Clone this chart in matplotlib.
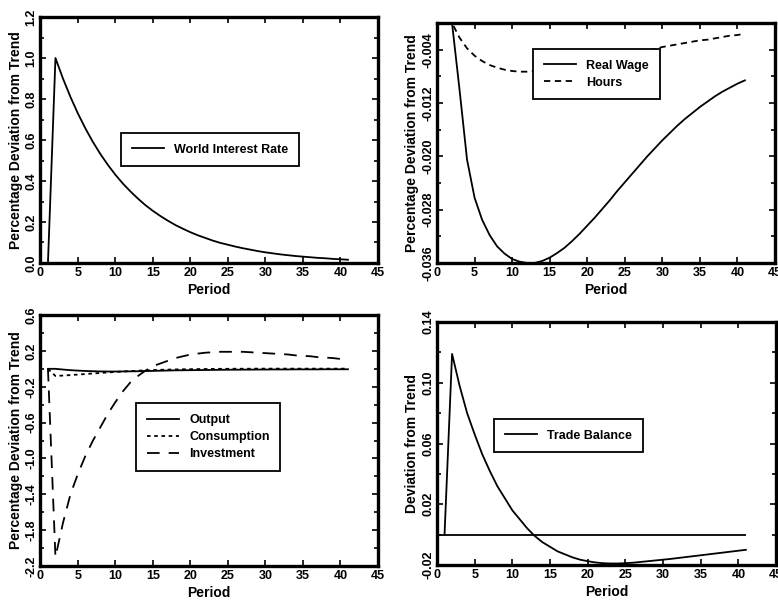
import matplotlib.pyplot as plt
import numpy as np

plt.rcParams['font.family'] = ['Liberation Sans', 'DejaVu Sans']
plt.rcParams['font.weight'] = 'bold'
plt.rcParams['axes.labelweight'] = 'bold'

# periods 1..41 of the impulse responses
periods = list(range(1, 42))

interest_rate = [0.0, 1.000, 0.900, 0.810, 0.729, 0.656, 0.590, 0.531, 0.478, 0.430,
                 0.387, 0.349, 0.314, 0.282, 0.254, 0.229, 0.206, 0.185, 0.167, 0.150,
                 0.135, 0.122, 0.109, 0.098, 0.089, 0.080, 0.072, 0.065, 0.058, 0.052,
                 0.047, 0.042, 0.038, 0.034, 0.031, 0.028, 0.025, 0.023, 0.020, 0.018,
                 0.016]

real_wage = [0.0, 0.0, -0.0100, -0.0205, -0.0262, -0.0295, -0.0318, -0.0335, -0.0346, -0.0354,
             -0.0358, -0.0360, -0.0360, -0.0357, -0.0352, -0.0345, -0.0337, -0.0327, -0.0316, -0.0304,
             -0.0292, -0.0279, -0.0266, -0.0252, -0.0239, -0.0226, -0.0213, -0.0200, -0.0188, -0.0176,
             -0.0165, -0.0154, -0.0144, -0.0135, -0.0126, -0.0118, -0.0110, -0.0103, -0.0097, -0.0091,
             -0.0086]

hours = [0.0, 0.0, -0.0022, -0.0038, -0.0049, -0.0057, -0.0063, -0.0067, -0.0070, -0.0072,
         -0.0073, -0.0073, -0.0072, -0.0071, -0.0069, -0.0067, -0.0064, -0.0062, -0.0059, -0.0057,
         -0.0055, -0.0053, -0.0051, -0.0049, -0.0047, -0.0045, -0.0043, -0.0041, -0.0039, -0.0036,
         -0.0034, -0.0032, -0.0030, -0.0028, -0.0026, -0.0025, -0.0023, -0.0021, -0.0019, -0.0018,
         -0.0016]

output = [0.0, 0.0, -0.008, -0.015, -0.020, -0.024, -0.027, -0.029, -0.030, -0.030,
          -0.029, -0.028, -0.027, -0.025, -0.023, -0.021, -0.019, -0.017, -0.016, -0.015,
          -0.014, -0.013, -0.012, -0.011, -0.010, -0.010, -0.009, -0.009, -0.008, -0.008,
          -0.007, -0.007, -0.007, -0.006, -0.006, -0.006, -0.006, -0.005, -0.005, -0.005,
          -0.005]

consumption = [0.0, -0.080, -0.075, -0.070, -0.064, -0.058, -0.052, -0.046, -0.040, -0.035,
               -0.030, -0.025, -0.021, -0.017, -0.014, -0.011, -0.009, -0.007, -0.005, -0.004,
               -0.003, -0.002, -0.001, 0.000, 0.000, 0.001, 0.001, 0.001, 0.002, 0.002,
               0.002, 0.002, 0.002, 0.002, 0.002, 0.002, 0.002, 0.002, 0.002, 0.002,
               0.002]

investment = [0.0, -2.10, -1.72, -1.40, -1.17, -0.97, -0.80, -0.65, -0.50, -0.37,
              -0.25, -0.15, -0.08, -0.02, 0.03, 0.06, 0.09, 0.12, 0.14, 0.16,
              0.17, 0.18, 0.185, 0.19, 0.19, 0.19, 0.19, 0.185, 0.18, 0.175,
              0.17, 0.165, 0.16, 0.15, 0.145, 0.14, 0.13, 0.125, 0.12, 0.11,
              0.105]

trade_balance = [0.0, 0.119, 0.098, 0.080, 0.066, 0.053, 0.042, 0.032, 0.024, 0.016,
                 0.010, 0.004, -0.001, -0.005, -0.008, -0.011, -0.013, -0.015, -0.0165, -0.0175,
                 -0.0183, -0.0188, -0.0190, -0.0190, -0.0188, -0.0185, -0.0180, -0.0175, -0.0170, -0.0165,
                 -0.0160, -0.0154, -0.0148, -0.0142, -0.0136, -0.0130, -0.0124, -0.0118, -0.0112, -0.0106,
                 -0.0100]

fig = plt.figure(figsize=(7.78, 6.01), dpi=100)

ax1 = fig.add_axes([0.052, 0.5624, 0.4338, 0.4093])
ax2 = fig.add_axes([0.5617, 0.5624, 0.4344, 0.3993])
ax3 = fig.add_axes([0.052, 0.0582, 0.4338, 0.4176])
ax4 = fig.add_axes([0.5617, 0.0599, 0.4357, 0.4043])


def style_axes(ax, yticks, fmt, ylim):
    ax.set_xlim(0, 45)
    ax.set_ylim(*ylim)
    ax.set_xticks(np.arange(0, 46, 5))
    ax.set_yticks(yticks)
    ax.set_yticklabels([fmt.format(v) for v in yticks])
    step = yticks[1] - yticks[0]
    ax.set_yticks(np.arange(yticks[0], yticks[-1] + step / 4, step / 2), minor=True)
    for s in ax.spines.values():
        s.set_linewidth(2.4)
    ax.tick_params(which='both', direction='in', top=True, right=True,
                   width=1.2, labelsize=9)
    ax.tick_params(which='major', length=4, pad=3)
    ax.tick_params(which='minor', length=3)
    ax.tick_params(axis='y', labelrotation=90, pad=2)
    for lab in ax.get_yticklabels():
        lab.set_va('center')
    ax.set_xlabel('Period', fontsize=10, labelpad=3)


def add_legend(ax, anchor):
    leg = ax.legend(loc='upper left', bbox_to_anchor=anchor, fontsize=9,
                    frameon=True, fancybox=False, framealpha=1, edgecolor='black',
                    handlelength=2.6, borderpad=0.85, labelspacing=0.4, handletextpad=0.8)
    leg.get_frame().set_linewidth(1.3)


lw = 1.3

# world interest rate
ax1.plot(periods, interest_rate, color='black', lw=lw, label='World Interest Rate')
style_axes(ax1, [0.0, 0.2, 0.4, 0.6, 0.8, 1.0, 1.2], '{:.1f}', (0, 1.2))
ax1.set_ylabel('Percentage Deviation from Trend', fontsize=10, labelpad=2)
add_legend(ax1, (0.221, 0.553))

# real wage and hours
ax2.plot(periods, real_wage, color='black', lw=lw, label='Real Wage')
ax2.plot(periods, hours, color='black', lw=lw, dashes=(3.5, 2.5), label='Hours')
style_axes(ax2, [-0.036, -0.028, -0.020, -0.012, -0.004], '{:.3f}', (-0.036, 0.0))
ax2.set_ylabel('Percentage Deviation from Trend', fontsize=10, labelpad=2)
add_legend(ax2, (0.266, 0.917))

# output, consumption, investment
ax3.plot(periods, output, color='black', lw=lw, label='Output')
ax3.plot(periods, consumption, color='black', lw=lw, dashes=(2, 2), label='Consumption')
ax3.plot(periods, investment, color='black', lw=lw, dashes=(7, 5), label='Investment')
style_axes(ax3, [-2.2, -1.8, -1.4, -1.0, -0.6, -0.2, 0.2, 0.6], '{:.1f}', (-2.2, 0.6))
ax3.set_ylabel('Percentage Deviation from Trend', fontsize=10, labelpad=2)
add_legend(ax3, (0.265, 0.673))

# trade balance
ax4.plot(periods, trade_balance, color='black', lw=lw, label='Trade Balance')
ax4.hlines(0, 0, periods[-1], color='black', lw=lw)
style_axes(ax4, [-0.02, 0.02, 0.06, 0.10, 0.14], '{:.2f}', (-0.02, 0.14))
ax4.set_ylabel('Deviation from Trend', fontsize=10, labelpad=2)
add_legend(ax4, (0.150, 0.626))

fig.savefig('out.png', dpi=100)
